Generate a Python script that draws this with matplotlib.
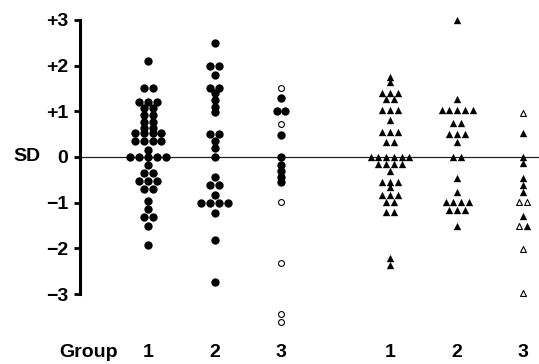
import matplotlib
matplotlib.use("Agg")
import matplotlib.pyplot as plt
import numpy as np
from collections import OrderedDict

# ---------------- data (SD scores) ----------------
circ1_filled = [2.1, 1.5, 1.5, 1.2, 1.2, 1.2, 1.07, 1.07, 0.92, 0.92, 0.77, 0.77,
                0.64, 0.64, 0.52, 0.52, 0.52, 0.52, 0.35, 0.35, 0.35, 0.35, 0.15,
                0.0, 0.0, 0.0, 0.0, 0.0, -0.18, -0.34, -0.34, -0.52, -0.52, -0.52,
                -0.71, -0.71, -0.96, -1.14, -1.31, -1.31, -1.52, -1.93]
circ1_open = []
circ2_filled = [2.5, 2.0, 2.0, 1.8, 1.5, 1.5, 1.4, 1.25, 1.1, 0.98, 0.5, 0.5, 0.35,
                0.2, 0.0, -0.43, -0.61, -0.61, -0.83, -1.0, -1.0, -1.0, -1.0,
                -1.22, -1.82, -2.73]
circ2_open = []
circ3_filled = [1.3, 1.0, 1.0, 0.48, 0.0, -0.17, -0.3, -0.43, -0.55]
circ3_open = [1.5, 0.72, -0.99, -2.33, -3.44, -3.62]
tri1_filled = [1.75, 1.65, 1.39, 1.39, 1.39, 1.26, 1.26, 1.03, 1.03, 1.03, 0.81,
               0.55, 0.55, 0.55, 0.33, 0.33, 0.0, 0.0, 0.0, 0.0, 0.0, 0.0,
               -0.15, -0.15, -0.15, -0.15, -0.3, -0.54, -0.54, -0.54, -0.66,
               -0.83, -0.83, -0.83, -0.99, -0.99, -1.2, -1.2, -2.2, -2.36]
tri1_open = []
tri2_filled = [3.0, 1.27, 1.03, 1.03, 1.03, 1.03, 1.03, 0.75, 0.75, 0.5, 0.5, 0.5,
               0.33, 0.0, 0.0, -0.47, -0.76, -0.98, -0.98, -0.98, -0.98,
               -1.17, -1.17, -1.17, -1.5]
tri2_open = []
tri3_filled = [0.52, 0.0, -0.13, -0.45, -0.62, -0.76, -1.29, -1.5]
tri3_open = [0.96, -0.98, -0.98, -1.5, -2.02, -2.97]

group_labels = ["1", "2", "3", "1", "2", "3"]
group_pos = [1.0, 2.0, 3.0, 4.64, 5.65, 6.64]
ytick_vals = [3, 2, 1, 0, -1, -2, -3]
ytick_labels = ["+3", "+2", "+1", "0", "\u22121", "\u22122", "\u22123"]

groups = [
    ("o", circ1_filled, circ1_open),
    ("o", circ2_filled, circ2_open),
    ("o", circ3_filled, circ3_open),
    ("^", tri1_filled, tri1_open),
    ("^", tri2_filled, tri2_open),
    ("^", tri3_filled, tri3_open),
]

# ---------------- figure ----------------
W, H = 539, 364
fig = plt.figure(figsize=(W / 100, H / 100), dpi=100)
ax = fig.add_axes([0, 0, 1, 1])
ax.set_xlim(-1.226, 6.88)
ax.set_ylim(-4.53, 3.435)

FONT = dict(family="Liberation Sans", weight="bold", size=14)

# zero line
ax.plot([-0.02, 6.88], [0, 0], color="#222222", lw=0.9, zorder=1)

def layout(filled, opened, step):
    pts = [(v, 0) for v in opened] + [(v, 1) for v in filled]
    rows = OrderedDict()
    for v, f in sorted(pts, key=lambda p: (-p[0], p[1])):
        rows.setdefault(round(v, 3), []).append(f)
    xs, ys, fs = [], [], []
    for v, flags in rows.items():
        n = len(flags)
        for i, f in enumerate(flags):
            xs.append((i - (n - 1) / 2) * step)
            ys.append(v)
            fs.append(f)
    return np.array(xs), np.array(ys), np.array(fs)

for (marker, filled, opened), pos in zip(groups, group_pos):
    step = 0.135 if marker == "o" else 0.116
    xs, ys, fs = layout(filled, opened, step)
    m = fs == 1
    if marker == "o":
        ax.scatter(pos + xs[m], ys[m], s=36, marker="o", color="black",
                   linewidths=0, zorder=3)
        ax.scatter(pos + xs[~m], ys[~m], s=18, marker="o", facecolor="white",
                   edgecolor="black", linewidths=0.8, zorder=3)
    else:
        ax.scatter(pos + xs[m], ys[m], s=28, marker="^", color="black",
                   linewidths=0, zorder=3)
        ax.scatter(pos + xs[~m], ys[~m], s=18, marker="^", facecolor="white",
                   edgecolor="black", linewidths=0.8, zorder=3)

# left axis
for s in ["top", "right", "bottom"]:
    ax.spines[s].set_visible(False)
ax.spines["left"].set_position(("data", -0.022))
ax.spines["left"].set_bounds(-3, 3)
ax.spines["left"].set_linewidth(2.2)
ax.set_yticks(ytick_vals)
ax.set_yticklabels(ytick_labels, fontdict=FONT)
ax.tick_params(axis="y", direction="out", length=4.5, width=2, pad=4)
ax.set_xticks([])

ax.text(-0.82, 0, "SD", ha="center", va="center", **FONT)

# group labels
ylab = -4.27
for lab, pos in zip(group_labels, group_pos):
    ax.text(pos, ylab, lab, ha="center", va="center", **FONT)
ax.text(0.54, ylab, "Group", ha="right", va="center", **FONT)

fig.savefig("out.png", dpi=100)
